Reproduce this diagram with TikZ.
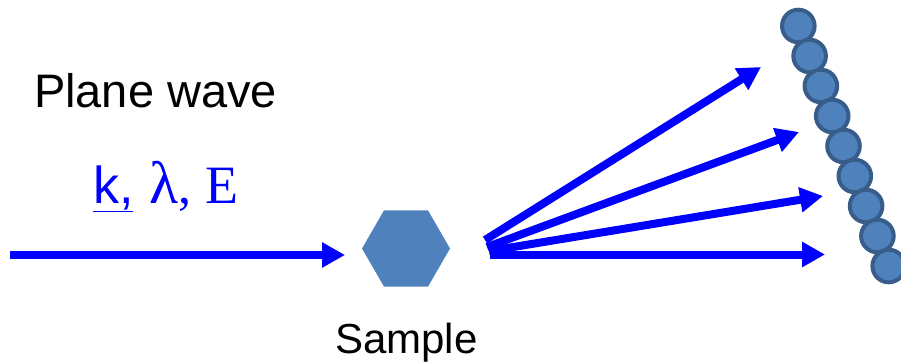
\documentclass[tikz,border=0pt]{standalone}
\usepackage{fontspec}
\setmainfont{Liberation Serif}
\setsansfont{Liberation Sans}
\usetikzlibrary{arrows.meta,shapes.geometric}
\definecolor{ofblue}{RGB}{79,129,189}
\definecolor{ofedge}{RGB}{56,93,138}
\definecolor{pureblue}{RGB}{0,0,255}
\tikzset{
  arr/.style={draw=pureblue, line width=8pt, -{Triangle[length=23pt,width=24pt]}},
  dot/.style={circle, draw=ofedge, fill=ofblue, line width=4pt, minimum size=32.6pt, inner sep=0pt, outer sep=0pt},
  hexa/.style={regular polygon, regular polygon sides=6, fill=ofblue, minimum size=88pt, inner sep=0pt, outer sep=0pt},
  lbl/.style={inner sep=0pt, outer sep=0pt}
}
\begin{document}
\begin{tikzpicture}[x=1pt,y=-1pt]
\useasboundingbox (0,0) rectangle (901,362);
% sample
\node[hexa] (sample) at (406,248.5) {};
% detector dots
\foreach \i/\x/\y in {1/798.3/26,2/809.6/56,3/820.9/86,4/832.2/116,5/843.5/146,6/854.8/176,7/866.1/206,8/877.4/236,9/888.7/266}{
  \node[dot] (d\i) at (\x,\y) {};
}
% incoming wave
\coordinate (src) at (10,255);
\coordinate (in) at (345,255);
\draw[arr] (src) -- (in);
% scattered waves
\coordinate (s1) at (485,240);
\coordinate (s2) at (487,247);
\coordinate (s3) at (489,251);
\coordinate (s4) at (490,254.5);
\coordinate (t1) at (761,67);
\coordinate (t2) at (799,132);
\coordinate (t3) at (823,196);
\coordinate (t4) at (825,254.5);
\draw[arr] (s1) -- (t1);
\draw[arr] (s2) -- (t2);
\draw[arr] (s3) -- (t3);
\draw[arr] (s4) -- (t4);
% labels
\node[lbl, anchor=base west, font=\sffamily\fontsize{47}{56}\selectfont] (plane) at (34,107) {Plane wave};
\node[lbl, anchor=base west, font=\sffamily\fontsize{42}{50}\selectfont] (samplelbl) at (335,353) {Sample};
\node[lbl, anchor=base west, text=pureblue] (kle) at (93,203)
  {\makebox[56pt][l]{\sffamily\fontsize{52}{60}\selectfont\underline{k,}}%
   \makebox[56pt][l]{\fontsize{60}{68}\selectfont λ\fontsize{52}{60}\selectfont,}%
   {\fontsize{54}{62}\selectfont E}};
\end{tikzpicture}
\end{document}
